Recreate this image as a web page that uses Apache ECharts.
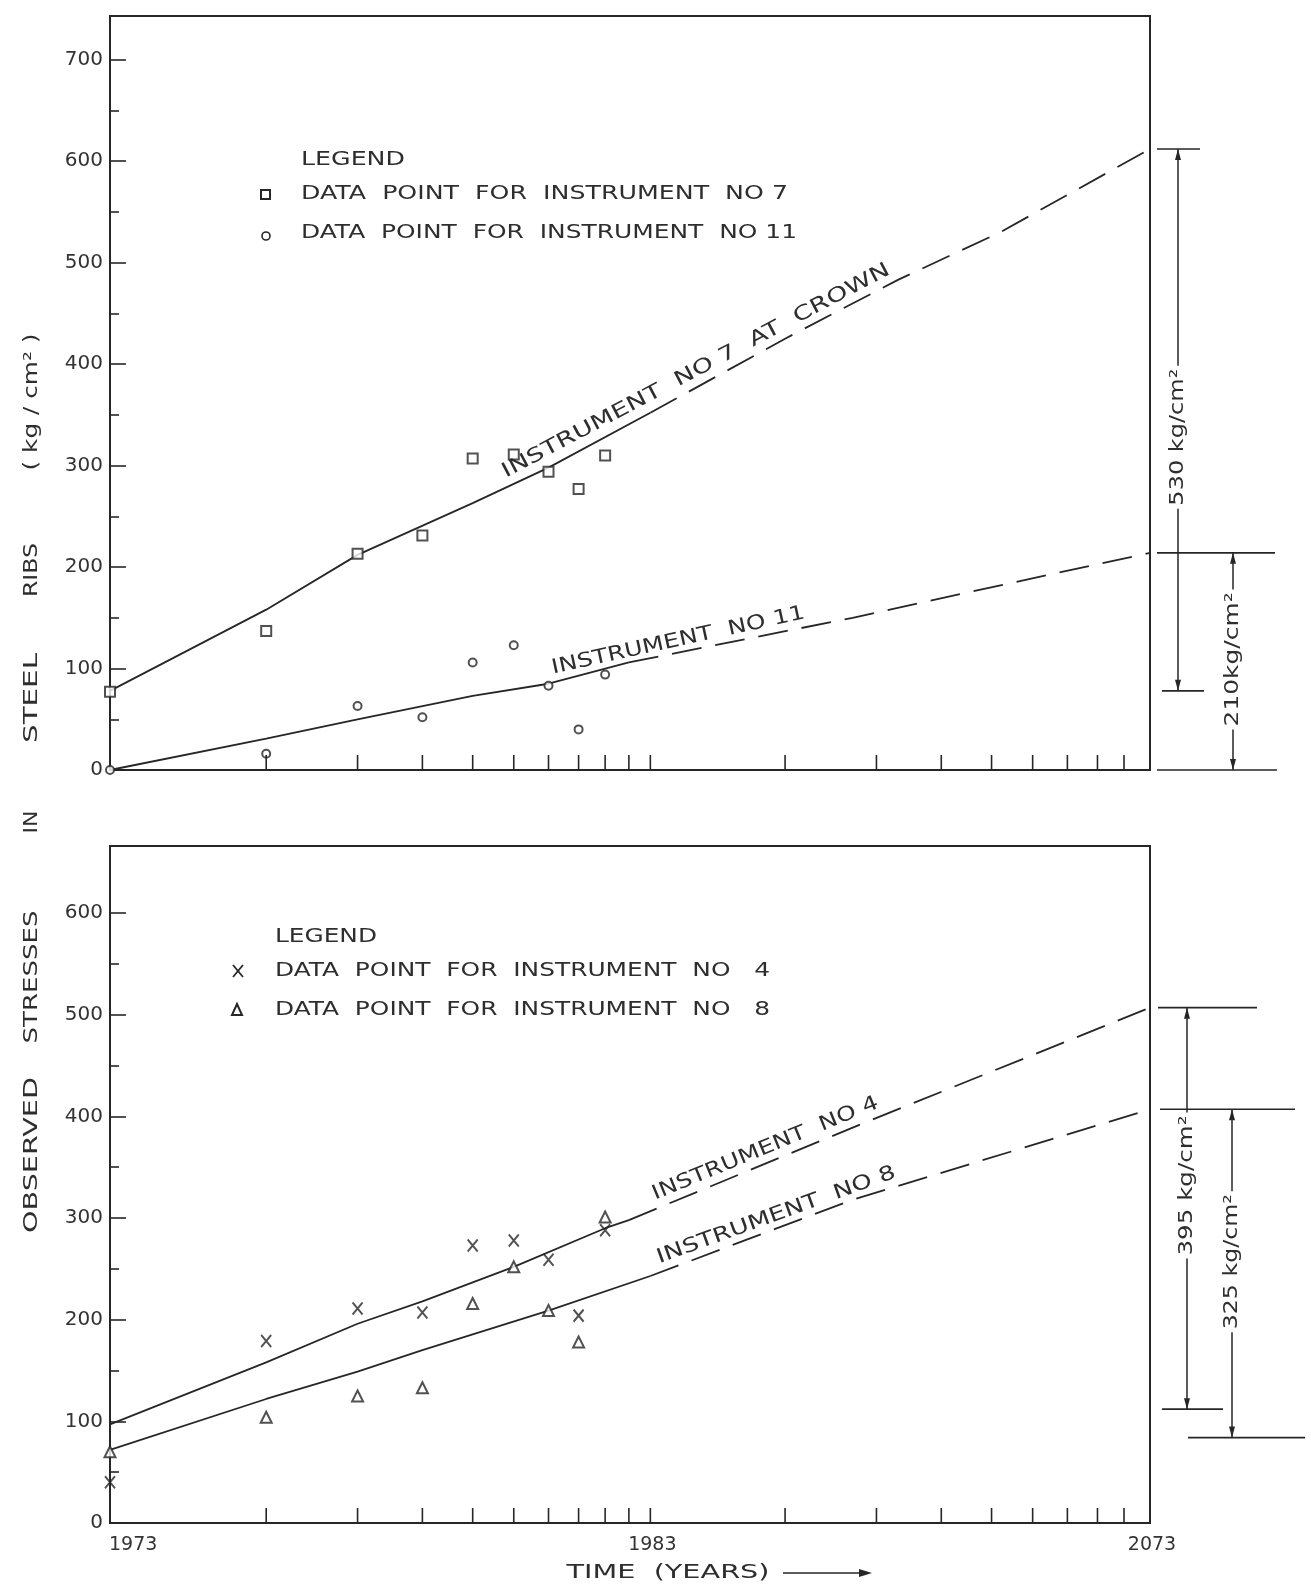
<!DOCTYPE html>
<html>
<head>
<meta charset="utf-8">
<title>Observed stresses in steel ribs</title>
<script src="https://cdn.jsdelivr.net/npm/echarts@6/dist/echarts.min.js"></script>
<style>
  html, body { margin: 0; background: #fff; }
  #chart { width: 1311px; height: 1589px; }
</style>
</head>
<body>
<div id="chart"></div>
<script>
// x is log of years since 1972: 1973 -> 1, 1983 -> 11, 2073 -> 101
const BASE_YEAR = 1972
const T_END = 101

// observed points, one per year 1973..1981
const obsT = [1, 2, 3, 4, 5, 6, 7, 8, 9]
const inst7 = [77, 137, 213, 231, 307, 311, 294, 277, 310]
const inst11 = [0, 16, 63, 52, 106, 123, 83, 40, 94]
const inst4 = [40, 179, 211, 207, 273, 278, 259, 204, 288]
const inst8 = [70, 104, 125, 133, 216, 252, 209, 178, 301]

// fitted lines as drawn, [t, stress]; *Ext is the dashed extrapolation
const fit7 = [[1, 78], [2, 158], [3, 212], [5, 263], [7, 298], [11, 352]]
const fit7Ext = [[11, 352], [20, 425], [33, 483], [52, 530], [101, 612]]
const fit11 = [[1, 0], [2, 31], [3, 50], [5, 73], [7, 85], [10, 106]]
const fit11Ext = [[10, 106], [27, 150], [52, 182], [101, 214]]
const fit4 = [[1, 97], [2, 158], [3, 196], [4, 218], [6, 252], [9, 290], [10, 298]]
const fit4Ext = [[10, 298], [27, 389], [101, 507]]
const fit8 = [[1, 72], [2, 122], [3, 149], [4, 170], [7, 209], [11, 243]]
const fit8Ext = [[11, 243], [27, 318], [101, 407]]

// axis ticks
const xTicks = [2, 3, 4, 5, 6, 7, 8, 9, 10, 11, 20, 30, 40, 50, 60, 70, 80, 90]
const xLabels = [1973, 1983, 2073]
const yMajorTop = [0, 100, 200, 300, 400, 500, 600, 700]
const yMinorTop = [50, 150, 250, 350, 450, 550, 650]
const yMajorBottom = [0, 100, 200, 300, 400, 500, 600]
const yMinorBottom = [50, 150, 250, 350, 450, 550]
const yMax = [743, 666]

// dimension marks on the right
const topLevels = [612, 214, 78, 0]
const topDims = [[612, 78, '530 kg/cm²'], [214, 0, '210kg/cm²']]
const bottomLevels = [507, 407, 112, 84]
const bottomDims = [[507, 112, '395 kg/cm²'], [407, 84, '325 kg/cm²']]

// layout of the dimension marks (pixels right of the frame)
const topLevelSpan = [[7, 50], [7, 125], [12, 54], [7, 127]]
const bottomLevelSpan = [[8, 107], [10, 145], [12, 73], [38, 155]]
const topDimLayout = { dx: [28, 83], textAt: [328, 109], textLen: [137, 134] }
const bottomDimLayout = { dx: [37, 82], textAt: [332, 257], textLen: [140, 135] }

// text written along the fitted lines, spanning t = from..to
const lineLabels = [
  { grid: 0, text: 'INSTRUMENT  NO 7  AT  CROWN', fit: fit7.concat(fit7Ext), from: 5.9, to: 32.6 },
  { grid: 0, text: 'INSTRUMENT  NO 11', fit: fit11.concat(fit11Ext), from: 7.2, to: 22.1 },
  { grid: 1, text: 'INSTRUMENT  NO 4', fit: fit4.concat(fit4Ext), from: 11.4, to: 30.9 },
  { grid: 1, text: 'INSTRUMENT  NO 8', fit: fit8.concat(fit8Ext), from: 11.6, to: 33.3 }
]

const ink = '#262626'
const FONT = 'DejaVu Sans'
const deg = Math.PI / 180

const ctx = document.createElement('canvas').getContext('2d')
function stretch(text, size, width) {
  ctx.font = size + 'px "' + FONT + '"'
  return width / ctx.measureText(text).width
}

const pairs = (xs, ys) => xs.map((x, i) => [x, ys[i]])

// value of a drawn line at t (straight between points on the log axis)
function lineAt(pts, t) {
  for (let i = 1; i < pts.length; i++) {
    const [ta, va] = pts[i - 1]
    const [tb, vb] = pts[i]
    if (tb > ta && t >= ta && t <= tb) {
      const f = (Math.log(t) - Math.log(ta)) / (Math.log(tb) - Math.log(ta))
      return va + f * (vb - va)
    }
  }
  return pts[pts.length - 1][1]
}

const grids = [
  { left: 110, top: 16, width: 1040, height: 754 },
  { left: 110, top: 846, width: 1040, height: 677 }
].map(g => ({ ...g, show: true, borderColor: ink, borderWidth: 2 }))

function xAxis(gi) {
  return {
    type: 'log', logBase: 10, gridIndex: gi, min: 1, max: T_END,
    axisLine: { show: true, onZero: false, lineStyle: { color: ink, width: 2 } },
    axisTick: { show: false }, axisLabel: { show: false },
    splitLine: { show: false }
  }
}

function yAxes(gi) {
  const major = gi === 0 ? yMajorTop : yMajorBottom
  const minor = gi === 0 ? yMinorTop : yMinorBottom
  return [
    {
      type: 'value', gridIndex: gi, min: 0, max: yMax[gi], position: 'left',
      axisLine: { show: true, onZero: false, lineStyle: { color: ink, width: 2 } },
      axisTick: { inside: true, length: 16, customValues: major, lineStyle: { color: ink, width: 1.6 } },
      axisLabel: { customValues: major, margin: 7, fontSize: 20, fontFamily: FONT, color: '#333' },
      splitLine: { show: false }
    },
    {
      type: 'value', gridIndex: gi, min: 0, max: yMax[gi], position: 'left',
      axisLine: { show: false, onZero: false },
      axisTick: { inside: true, length: 9, customValues: minor, lineStyle: { color: ink, width: 1.6 } },
      axisLabel: { show: false },
      splitLine: { show: false }
    }
  ]
}

function fitLine(gi, data, dashed) {
  return {
    type: 'line', xAxisIndex: gi, yAxisIndex: gi * 2, data, z: 2,
    symbol: 'none', silent: true,
    lineStyle: { color: ink, width: 1.8, type: dashed ? [30, 14] : 'solid' }
  }
}

function dots(gi, name, data, symbol, size) {
  return {
    type: 'scatter', name, xAxisIndex: gi, yAxisIndex: gi * 2, data, z: 3,
    symbol, symbolSize: size,
    itemStyle: { color: symbol.startsWith('path') ? 'transparent' : '#fff', borderColor: ink, borderWidth: 2 }
  }
}

function ticks(gi) {
  return {
    type: 'custom', xAxisIndex: gi, yAxisIndex: gi * 2, silent: true, z: 4,
    data: xTicks.map(t => [t, 0]),
    renderItem: (params, api) => {
      const p = api.coord([api.value(0), 0])
      return {
        type: 'line', shape: { x1: p[0], y1: p[1], x2: p[0], y2: p[1] - 15 },
        style: { stroke: ink, lineWidth: 1.6 }
      }
    }
  }
}

function yearLabels(gi) {
  return {
    type: 'custom', xAxisIndex: gi, yAxisIndex: gi * 2, silent: true,
    data: xLabels.map(y => [y - BASE_YEAR, 0]),
    renderItem: (params, api) => {
      const p = api.coord([api.value(0), 0])
      const first = params.dataIndex === 0
      return {
        type: 'text', x: p[0] + (first ? -1 : 2), y: p[1] + 13,
        style: {
          text: String(xLabels[params.dataIndex]), fontSize: 19, fontFamily: FONT, fill: '#333',
          align: first ? 'left' : 'center', verticalAlign: 'top'
        }
      }
    }
  }
}

function lineText(gi) {
  const list = lineLabels.filter(l => l.grid === gi)
  return {
    type: 'custom', xAxisIndex: gi, yAxisIndex: gi * 2, silent: true, z: 5,
    data: list.map(l => [l.from, lineAt(l.fit, l.from)]),
    renderItem: (params, api) => {
      const l = list[params.dataIndex]
      const a = api.coord([l.from, lineAt(l.fit, l.from)])
      const b = api.coord([l.to, lineAt(l.fit, l.to)])
      const ang = Math.atan2(a[1] - b[1], b[0] - a[0])
      const len = Math.hypot(b[0] - a[0], b[1] - a[1])
      const off = 14
      return {
        type: 'text',
        x: (a[0] + b[0]) / 2 - off * Math.sin(ang),
        y: (a[1] + b[1]) / 2 - off * Math.cos(ang),
        rotation: ang, scaleX: stretch(l.text, 20, len),
        style: { text: l.text, fontSize: 20, fontFamily: FONT, fill: '#2e2e2e', align: 'center', verticalAlign: 'middle' }
      }
    }
  }
}

function levels(gi, vals, spans) {
  return {
    type: 'custom', xAxisIndex: gi, yAxisIndex: gi * 2, silent: true,
    data: vals.map(v => [T_END, v]),
    renderItem: (params, api) => {
      const p = api.coord([T_END, api.value(1)])
      const s = spans[params.dataIndex]
      return {
        type: 'line', shape: { x1: p[0] + s[0], y1: p[1], x2: p[0] + s[1], y2: p[1] },
        style: { stroke: ink, lineWidth: 1.6 }
      }
    }
  }
}

function dims(gi, list, lay) {
  return {
    type: 'custom', xAxisIndex: gi, yAxisIndex: gi * 2, silent: true,
    data: list.map(d => [T_END, d[0], d[1]]),
    renderItem: (params, api) => {
      const i = params.dataIndex
      const d = list[i]
      const a = api.coord([T_END, d[0]])
      const b = api.coord([T_END, d[1]])
      const m = api.coord([T_END, lay.textAt[i]])
      const x = a[0] + lay.dx[i]
      const half = lay.textLen[i] / 2 + 3
      const st = { stroke: ink, lineWidth: 1.5 }
      return {
        type: 'group',
        children: [
          { type: 'line', shape: { x1: x, y1: a[1], x2: x, y2: m[1] - half }, style: st },
          { type: 'line', shape: { x1: x, y1: m[1] + half, x2: x, y2: b[1] }, style: st },
          { type: 'polygon', shape: { points: [[x, a[1]], [x - 3, a[1] + 11], [x + 3, a[1] + 11]] }, style: { fill: ink } },
          { type: 'polygon', shape: { points: [[x, b[1]], [x - 3, b[1] - 11], [x + 3, b[1] - 11]] }, style: { fill: ink } },
          {
            type: 'text', x, y: m[1], rotation: 90 * deg, scaleX: stretch(d[2], 19, lay.textLen[i]),
            style: { text: d[2], fontSize: 19, fontFamily: FONT, fill: '#2e2e2e', align: 'center', verticalAlign: 'middle' }
          }
        ]
      }
    }
  }
}

function word(text, x, y, width, size, rot, align) {
  return {
    type: 'text', x, y, rotation: rot || 0, scaleX: stretch(text, size, width), silent: true,
    style: { text, fontSize: size, fontFamily: FONT, fill: '#2e2e2e', align: align || 'center', verticalAlign: 'middle' }
  }
}

const sym = { fill: '#fff', stroke: ink, lineWidth: 2 }
const graphic = [
  // shared y title
  word('OBSERVED', 32, 1155, 156, 19, 90 * deg),
  word('STRESSES', 32, 977, 133, 19, 90 * deg),
  word('IN', 32, 822, 23, 19, 90 * deg),
  word('STEEL', 32, 698, 90, 19, 90 * deg),
  word('RIBS', 32, 570, 54, 19, 90 * deg),
  word('( kg / cm² )', 32, 402, 137, 19, 90 * deg),
  // x title with arrow
  word('TIME  (YEARS)', 668, 1573, 203, 19),
  { type: 'line', shape: { x1: 783, y1: 1573, x2: 864, y2: 1573 }, style: { stroke: ink, lineWidth: 1.6 } },
  { type: 'polygon', shape: { points: [[872, 1573], [859, 1569], [859, 1577]] }, style: { fill: ink } },
  // top legend
  word('LEGEND', 301, 160, 104, 20, 0, 'left'),
  { type: 'rect', shape: { x: 261, y: 190, width: 9, height: 9 }, style: sym },
  word('DATA  POINT  FOR  INSTRUMENT  NO 7', 301, 194, 487, 20, 0, 'left'),
  { type: 'circle', shape: { cx: 266, cy: 236, r: 4 }, style: { ...sym, lineWidth: 1.6 } },
  word('DATA  POINT  FOR  INSTRUMENT  NO 11', 301, 233, 496, 20, 0, 'left'),
  // bottom legend
  word('LEGEND', 275, 937, 102, 20, 0, 'left'),
  { type: 'line', shape: { x1: 233, y1: 965, x2: 243, y2: 977 }, style: { stroke: ink, lineWidth: 1.8 } },
  { type: 'line', shape: { x1: 243, y1: 965, x2: 233, y2: 977 }, style: { stroke: ink, lineWidth: 1.8 } },
  word('DATA  POINT  FOR  INSTRUMENT  NO   4', 275, 971, 495, 20, 0, 'left'),
  { type: 'polygon', shape: { points: [[237, 1004], [232, 1015], [242, 1015]] }, style: sym },
  word('DATA  POINT  FOR  INSTRUMENT  NO   8', 275, 1010, 495, 20, 0, 'left')
]

const crossPath = 'path://M0,0L10,12M10,0L0,12'

const option = {
  animation: false,
  backgroundColor: '#fff',
  grid: grids,
  xAxis: [xAxis(0), xAxis(1)],
  yAxis: [...yAxes(0), ...yAxes(1)],
  graphic,
  series: [
    fitLine(0, fit7), fitLine(0, fit7Ext, true),
    fitLine(0, fit11), fitLine(0, fit11Ext, true),
    dots(0, 'DATA POINT FOR INSTRUMENT NO 7', pairs(obsT, inst7), 'rect', 10),
    dots(0, 'DATA POINT FOR INSTRUMENT NO 11', pairs(obsT, inst11), 'circle', 8),
    fitLine(1, fit4), fitLine(1, fit4Ext, true),
    fitLine(1, fit8), fitLine(1, fit8Ext, true),
    dots(1, 'DATA POINT FOR INSTRUMENT NO 4', pairs(obsT, inst4), crossPath, [10, 12]),
    dots(1, 'DATA POINT FOR INSTRUMENT NO 8', pairs(obsT, inst8), 'triangle', 11),
    ticks(0), ticks(1), yearLabels(1),
    lineText(0), lineText(1),
    levels(0, topLevels, topLevelSpan), dims(0, topDims, topDimLayout),
    levels(1, bottomLevels, bottomLevelSpan), dims(1, bottomDims, bottomDimLayout)
  ]
}

const chart = echarts.init(document.getElementById('chart'))
chart.setOption(option)
</script>
</body>
</html>
